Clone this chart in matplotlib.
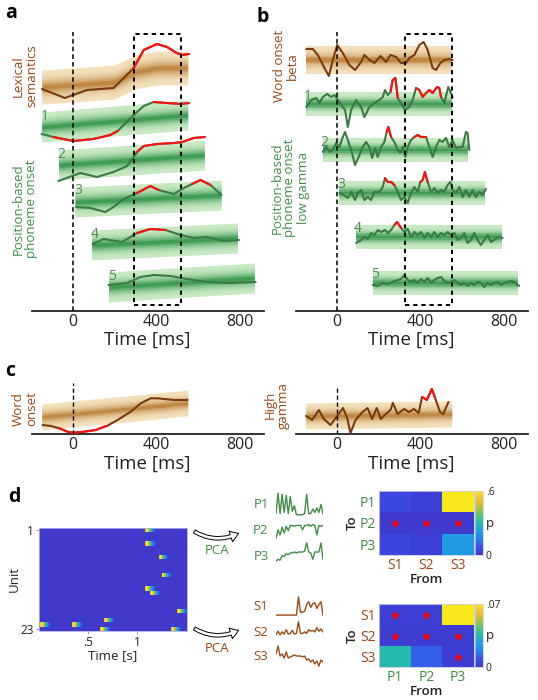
import numpy as np
import matplotlib
matplotlib.use("Agg")
import matplotlib.pyplot as plt
from matplotlib.colors import LinearSegmentedColormap, to_rgb
from matplotlib.patches import Rectangle, FancyArrowPatch

plt.rcParams['font.family'] = ['Open Sans', 'DejaVu Sans']

# ---------------- data ----------------
# Panel a (time in ms, values in arbitrary offset units)
lex_t = [-150, -100, -40, 0, 66, 130, 194, 243, 291, 339, 403, 451, 498, 524, 556]
lex_y = [222, 218, 213, 216, 221, 222, 223, 233, 243, 261, 267, 264, 258, 256, 257]
lex_sig = [(285, 560)]
lex_band_t = [-150, 0, 200, 300, 400, 550]
lex_band_c = [224, 226, 229, 239, 243, 243]

a_t = [
    [-151, -95, 0, 98, 178, 214, 291, 339, 387, 451, 516, 556],
    [-71, 34, 114, 194, 259, 291, 307, 340, 403, 484, 524, 580, 633],
    [14, 82, 154, 194, 243, 307, 371, 411, 484, 532, 572, 612, 660, 713],
    [93, 146, 235, 307, 371, 443, 516, 580, 644, 725, 797],
    [170, 259, 323, 387, 467, 548, 644, 741, 877],
]
a_y = [
    [177, 174, 170, 172, 176, 180, 196, 205, 209, 208, 207, 208],
    [130, 138, 134, 139, 145, 154, 159, 165, 167, 168, 169, 173, 174],
    [104, 103, 99, 104, 112, 118, 125, 121, 117, 123, 127, 131, 126, 116],
    [67, 72, 69, 78, 82, 81, 76, 73, 74, 70, 71],
    [26, 28, 34, 36, 35, 32, 29, 28, 29],
]
a_sig = [[(-95, 214), (387, 560)], [(307, 640)], [(307, 411), (572, 660)], [(307, 443)], []]
phon_start = [-150, -70, 10, 90, 170]
phon_end = [550, 630, 710, 790, 870]
a_band_c0 = [184, 146, 109, 66, 24]
a_band_c1 = [196, 156, 116, 73, 33]
window_a = (290, 520)

# Panel b
beta_t = [-149, -117, -93, -61, -40, -21, 0, 27, 59, 86, 115, 131, 155, 179, 208, 235, 256, 283,
          307, 331, 347, 371, 395, 416, 435, 459, 475, 496, 515, 539, 555]
beta_y = [262, 262, 256, 243, 235, 251, 266, 258, 246, 241, 249, 256, 251, 248, 255, 249, 256, 254,
          248, 248, 253, 256, 266, 269, 261, 243, 241, 248, 251, 252, 251]
beta_band_c = [251, 251]
b_t = [
    [-149, -125, -101, -85, -69, -48, -29, -13, 3, 27, 38, 51, 67, 91, 115, 131, 155, 179, 203, 219,
     230, 243, 256, 267, 280, 291, 307, 326, 347, 363, 379, 395, 411, 427, 443, 459, 480, 491, 499,
     515, 534, 547, 555],
    [-69, -53, -37, -21, -5, 11, 27, 38, 51, 67, 86, 107, 123, 139, 155, 168, 182, 195, 211, 227, 238,
     246, 259, 275, 291, 304, 315, 328, 339, 355, 371, 387, 403, 427, 443, 459, 475, 491, 507, 523,
     539, 555, 571, 587, 603, 619, 627, 635],
    [11, 32, 51, 67, 86, 99, 115, 131, 147, 163, 179, 203, 219, 230, 243, 259, 275, 291, 307, 323,
     339, 355, 371, 387, 400, 411, 422, 435, 451, 467, 483, 499, 515, 531, 544, 555, 571, 587, 603,
     619, 635, 651, 667, 683, 699, 715],
    [91, 115, 131, 147, 163, 179, 195, 211, 230, 243, 259, 275, 288, 307, 323, 339, 355, 371, 387,
     403, 419, 435, 451, 467, 483, 499, 515, 531, 547, 563, 579, 595, 611, 627, 643, 659, 675, 691,
     707, 723, 739, 755, 771, 795],
    [171, 195, 219, 243, 267, 291, 307, 323, 339, 355, 371, 387, 403, 419, 435, 451, 467, 483, 499,
     515, 531, 547, 563, 579, 595, 611, 627, 643, 659, 675, 691, 707, 723, 739, 755, 771, 787, 803,
     819, 835, 851, 875],
]
b_y = [
    [204, 211, 213, 208, 214, 217, 214, 216, 211, 204, 201, 184, 201, 211, 204, 194, 204, 208, 211,
     214, 221, 216, 219, 231, 233, 213, 208, 201, 204, 211, 223, 221, 214, 218, 221, 218, 224, 223,
     214, 208, 224, 218, 214],
    [159, 164, 159, 161, 168, 164, 174, 179, 171, 161, 146, 156, 164, 169, 164, 153, 163, 154, 164,
     169, 179, 184, 174, 169, 161, 158, 164, 154, 164, 171, 174, 176, 174, 174, 164, 154, 164, 171,
     169, 173, 164, 171, 163, 164, 164, 179, 178, 161],
    [118, 116, 113, 119, 111, 118, 121, 111, 114, 111, 119, 119, 124, 133, 129, 129, 126, 119, 111,
     114, 108, 118, 124, 119, 129, 131, 139, 129, 119, 123, 118, 121, 119, 126, 129, 121, 118, 124,
     114, 121, 114, 121, 114, 119, 116, 122],
    [68, 71, 74, 72, 78, 76, 81, 79, 81, 78, 81, 86, 89, 83, 79, 82, 74, 79, 76, 79, 73, 78, 74, 79,
     74, 78, 76, 79, 76, 78, 71, 73, 78, 68, 71, 78, 71, 66, 71, 76, 69, 71, 74, 73],
    [26, 25, 28, 27, 29, 31, 32, 36, 31, 29, 31, 28, 32, 29, 33, 28, 31, 33, 34, 30, 28, 29, 31, 28,
     26, 28, 25, 28, 26, 29, 28, 24, 28, 26, 28, 29, 26, 28, 29, 30, 29, 25],
]
b_sig = [[(256, 291), (379, 499)], [(230, 262), (365, 430)], [(228, 276), (398, 436)], [(275, 307)], []]
b_band_c = [207, 161, 118, 74, 28]
window_b = (325, 550)

# Panel c
cl_t = [-147, -107, -67, -27, 0, 53, 109, 149, 165, 213, 277, 325, 373, 405, 453, 485, 530, 550]
cl_y = [9, 8, 5.7, 2.3, 1.3, 2.3, 4, 7.3, 8.3, 14, 22.3, 30.7, 35.7, 35.7, 34.7, 34, 34, 34]
cl_sig = [(-67, 165)]
cl_band_c = [17, 31]
cr_t = [-150, -120, -88, -64, -32, 0, 28, 48, 64, 88, 122, 146, 168, 190, 210, 234, 256, 268, 290,
        322, 345, 369, 392, 408, 431, 455, 471, 494, 510, 535]
cr_y = [18, 14, 24, 15, 9, 18, 26, 16, 1, 14, 22, 26, 15, 26, 15, 20, 24, 31, 20, 25, 22, 25, 21,
        37, 34, 45, 36, 22, 20, 32]
cr_sig = [(400, 475)]
cr_band_c = [18, 20]
word_start, word_end = -150, 550

# Panel d
unit_rows = [1, 4, 7, 11, 14, 15, 19, 22, 22, 21, 23, 23]
unit_onsets = [1.08, 1.08, 1.22, 1.25, 1.08, 1.13, 1.41, 0.01, 0.34, 0.66, 0.62, 1.35]
blob_profile = [0.86, 1.0, 0.95, 0.82, 0.66, 0.52, 0.4, 0.3, 0.2, 0.12, 0.06, 0.02]
n_units = 23
p_names = ['P1', 'P2', 'P3']
s_names = ['S1', 'S2', 'S3']
P_traces = [
    [0.1, 1.0, 0.1, 0.95, 0.15, 0.9, 0.1, 0.85, 0.2, 0.45, 0.05, 0.05, 0.05, 0.05, 0.1, 0.95, 0.1,
     0.1, 0.3, 0.15, 0.35, 0.15, 0.5, 0.1],
    [0.1, 0.6, 0.3, 0.75, 0.4, 0.8, 0.55, 0.85, 0.85, 0.8, 0.85, 0.85, 0.85, 0.6, 0.85, 0.85, 0.9,
     0.8, 0.9, 0.85, 0.3, 0.85, 0.8, 0.85],
    [0.0, 0.1, 0.05, 0.3, 0.25, 0.4, 0.35, 0.45, 0.45, 0.5, 0.45, 0.5, 0.5, 0.5, 0.55, 1.0, 0.5,
     0.45, 0.1, 0.5, 0.5, 0.5, 1.0, 0.1],
]
S_traces = [
    [0.05, 0.05, 0.05, 0.05, 0.05, 0.05, 0.05, 0.05, 0.05, 0.05, 0.05, 1.0, 0.2, 0.2, 0.25, 0.6,
     0.75, 0.45, 0.65, 0.7, 0.4, 0.6, 0.75, 0.05],
    [0.1, 0.35, 0.1, 0.3, 0.15, 0.45, 0.15, 0.2, 0.4, 0.15, 0.2, 1.0, 0.2, 0.2, 0.3, 0.2, 0.45,
     0.35, 0.4, 0.3, 0.6, 0.35, 0.5, 0.3],
    [0.6, 1.0, 0.5, 0.6, 0.4, 0.7, 0.4, 0.45, 0.5, 0.55, 0.5, 0.5, 0.5, 0.45, 0.5, 0.3, 0.35, 0.2,
     0.3, 0.1, 0.25, 0.0, 0.3, 0.2],
]
p_S_to_P = [[0.06, 0.03, 0.62], [0.01, 0.01, 0.01], [0.05, 0.03, 0.20]]
sig_S_to_P = [(1, 0), (1, 1), (1, 2)]
p_P_to_S = [[0.003, 0.003, 0.072], [0.002, 0.002, 0.002], [0.035, 0.012, 0.002]]
sig_P_to_S = [(0, 0), (0, 1), (1, 0), (1, 1), (1, 2), (2, 2)]
vmax_top, vmax_bot = 0.6, 0.07

# ---------------- style ----------------
GREEN_LINE = "#3a7a44"
BROWN_LINE = "#7a3a10"
RED = "#ff1010"
GREEN_TXT = "#3f8f45"
BROWN_TXT = "#9a4814"
NUM_TXT = "#4f8a5c"
GREEN_PAL = ("#c9e9c4", "#3f9d56")
TAN_PAL = ("#f3e1bc", "#c08a46")
cmap = LinearSegmentedColormap.from_list("parula_like", [
    "#4039cc", "#3a4ee8", "#2a80f0", "#1ba4dc", "#25b9b0", "#5cc47a", "#b9bd3e", "#f2bf36", "#f8e81c"])

W, H = 538, 700
fig = plt.figure(figsize=(W / 100, H / 100), dpi=100)


def px_axes(l, t, r, b):
    return fig.add_axes([l / W, 1 - b / H, (r - l) / W, (b - t) / H])


def ftext(x, y, s, **kw):
    return fig.text(x / W, 1 - y / H, s, **kw)


def band(ax, bt, bc, half, pal):
    bt = np.asarray(bt, float)
    bc = np.asarray(bc, float)
    c_out = np.array(to_rgb(pal[0]))
    c_core = np.array(to_rgb(pal[1]))
    n = 10
    for k in range(n):
        f = 1.0 - k * (0.88 / (n - 1))
        w = (k / (n - 1)) ** 2.2
        col = c_out * (1 - w) + c_core * w
        ax.fill_between(bt, bc - half * f, bc + half * f, color=col, lw=0, zorder=1)


def trace(ax, t, y, sig, color, lw=1.5):
    t = np.asarray(t, float)
    y = np.asarray(y, float)
    ax.plot(t, y, color=color, lw=lw, zorder=3, solid_joinstyle='round', solid_capstyle='round')
    for s, e in sig:
        m = (t >= s) & (t <= e)
        ax.plot(t[m], y[m], color=RED, lw=lw, zorder=4, solid_joinstyle='round',
                solid_capstyle='round')


def time_axis(ax, top_px, bottom_px, label_top_px):
    h = bottom_px - top_px
    ax.set_xlim(-198, 915)
    ax.set_ylim(0, h)
    for s in ['top', 'right', 'left']:
        ax.spines[s].set_visible(False)
    ax.spines['bottom'].set_linewidth(1.3)
    ax.spines['bottom'].set_color('#222222')
    ax.set_yticks([])
    ax.set_xticks([0, 400, 800])
    ax.tick_params(axis='x', length=0, pad=2.5, labelsize=11.5, labelcolor='#222222')
    ax.set_xlabel('Time [ms]', fontsize=13.5, color='#222222')
    ax.xaxis.set_label_coords(0.5, -(label_top_px - bottom_px) / h)
    ax.patch.set_alpha(0)


# ---------------- panel a ----------------
axa = px_axes(32, 30, 263.5, 311)
time_axis(axa, 30, 311, 331)
band(axa, lex_band_t, lex_band_c, 17, TAN_PAL)
trace(axa, lex_t, lex_y, lex_sig, BROWN_LINE)
for i in range(5):
    band(axa, [phon_start[i], phon_end[i]], [a_band_c0[i], a_band_c1[i]], 15, GREEN_PAL)
    trace(axa, a_t[i], a_y[i], a_sig[i], GREEN_LINE)
    axa.text(phon_start[i] + 15, a_band_c0[i] + 11, str(i + 1), color=NUM_TXT, fontsize=10,
             ha='center', va='center', zorder=5)
axa.plot([0, 0], [0, 279], ls=(0, (3, 2)), color='black', lw=1.1, zorder=5)
axa.add_patch(Rectangle((window_a[0], 6), window_a[1] - window_a[0], 271, fill=False,
                        ls=(0, (2.2, 2)), lw=1.4, ec='black', zorder=6))

# ---------------- panel b ----------------
axb = px_axes(296, 30, 527.5, 311)
time_axis(axb, 30, 311, 331)
band(axb, [word_start, word_end], beta_band_c, 14, TAN_PAL)
trace(axb, beta_t, beta_y, [], BROWN_LINE)
for i in range(5):
    band(axb, [phon_start[i], phon_end[i]], [b_band_c[i], b_band_c[i]], 12, GREEN_PAL)
    trace(axb, b_t[i], b_y[i], b_sig[i], GREEN_LINE)
    axb.text(phon_start[i] + 10, b_band_c[i] + 8, str(i + 1), color=NUM_TXT, fontsize=10,
             ha='center', va='center', zorder=5)
axb.plot([0, 0], [0, 279], ls=(0, (3, 2)), color='black', lw=1.1, zorder=5)
axb.add_patch(Rectangle((window_b[0], 6), window_b[1] - window_b[0], 271, fill=False,
                        ls=(0, (2.2, 2)), lw=1.4, ec='black', zorder=6))

# ---------------- panel c ----------------
axc1 = px_axes(32, 382, 263.5, 434)
time_axis(axc1, 382, 434, 455)
band(axc1, [word_start, word_end], cl_band_c, 13, TAN_PAL)
trace(axc1, cl_t, cl_y, cl_sig, BROWN_LINE)
axc1.plot([0, 0], [0, 51], ls=(0, (3, 2)), color='black', lw=1.0, zorder=5)

axc2 = px_axes(296, 382, 527.5, 434)
time_axis(axc2, 382, 434, 455)
band(axc2, [word_start, word_end], cr_band_c, 13, TAN_PAL)
trace(axc2, cr_t, cr_y, cr_sig, BROWN_LINE)
axc2.plot([0, 0], [0, 48], ls=(0, (3, 2)), color='black', lw=1.0, zorder=5)

# side labels
ftext(25, 76, 'Lexical\nsemantics', rotation=90, ha='center', va='center', color=BROWN_TXT,
      fontsize=9.5, multialignment='center', linespacing=1.0)
ftext(25, 209, 'Position-based\nphoneme onset', rotation=90, ha='center', va='center',
      color=GREEN_TXT, fontsize=9.5, multialignment='center', linespacing=1.0)
ftext(286, 66, 'Word onset\nbeta', rotation=90, ha='center', va='center', color=BROWN_TXT,
      fontsize=9.5, multialignment='center', linespacing=1.0)
ftext(290, 188, 'Position-based\nphoneme onset\nlow gamma', rotation=90, ha='center',
      va='center', color=GREEN_TXT, fontsize=9.5, multialignment='center', linespacing=1.0)
ftext(25, 409, 'Word\nonset', rotation=90, ha='center', va='center', color=BROWN_TXT,
      fontsize=9.5, multialignment='center', linespacing=1.0)
ftext(277, 405, 'High\ngamma', rotation=90, ha='center', va='center', color=BROWN_TXT,
      fontsize=9.5, multialignment='center', linespacing=1.0)

# panel letters
for lx, ly, lt in [(11, 13, 'a'), (263, 17, 'b'), (10, 371, 'c'), (14, 497, 'd')]:
    ftext(lx, ly, lt, fontsize=14, fontweight='bold', ha='center', va='center', color='black')

# ---------------- panel d ----------------
dt = 0.01
nbins = 151
M = np.zeros((n_units, nbins))
for r, t0 in zip(unit_rows, unit_onsets):
    i0 = int(round(t0 / dt))
    for k, v in enumerate(blob_profile):
        if i0 + k < nbins:
            M[r - 1, i0 + k] = max(M[r - 1, i0 + k], v)
axr = px_axes(39, 528, 187, 631)
axr.imshow(M, extent=[0, nbins * dt, n_units + 0.5, 0.5], aspect='auto', cmap=cmap, vmin=0,
           vmax=1, interpolation='nearest')
axr.set_yticks([1, n_units])
axr.set_yticklabels(['1', str(n_units)])
axr.set_xticks([0.5, 1.0])
axr.set_xticklabels(['.5', '1'])
axr.tick_params(labelsize=8.5, length=2, width=0.6, color='#888888', labelcolor='#222222', pad=1.5)
for s in axr.spines.values():
    s.set_color('#aab0e8')
    s.set_linewidth(0.6)
axr.set_ylabel('Unit', fontsize=9.5, color='#222222', labelpad=0)
axr.set_xlabel('Time [s]', fontsize=9.5, color='#222222', labelpad=0)

# arrows + PCA
for (y0, y1, ytxt, col) in [(530, 532, 550, GREEN_TXT), (627, 629, 648, BROWN_TXT)]:
    arr = FancyArrowPatch((192 / W, 1 - y0 / H), (241 / W, 1 - y1 / H), transform=fig.transFigure,
                          connectionstyle="arc3,rad=0.3",
                          arrowstyle="simple,head_width=0.8,head_length=0.6,tail_width=0.25",
                          mutation_scale=10, fc='white', ec='black', lw=0.7)
    fig.add_artist(arr)
    ftext(217, ytxt, 'PCA', color=col, fontsize=9.5, ha='center', va='center')

# small component traces
p_boxes = [(492, 517), (522, 541), (542, 562)]
s_boxes = [(596, 617), (621, 637), (645, 667)]
p_lab_y = [505, 531, 557]
s_lab_y = [607, 633, 657]
for i in range(3):
    for boxes, traces, lab_y, names, lc, tc in [
            (p_boxes, P_traces, p_lab_y, p_names, "#3f8c46", GREEN_TXT),
            (s_boxes, S_traces, s_lab_y, s_names, "#9a4a14", BROWN_TXT)]:
        t0, t1 = boxes[i]
        axs = px_axes(276, t0, 323, t1)
        vals = traces[i]
        axs.plot(np.arange(len(vals)), vals, color=lc, lw=1.0)
        axs.set_xlim(0, len(vals) - 1)
        axs.set_ylim(-0.05, 1.05)
        axs.axis('off')
        ftext(261, lab_y[i], names[i], color=tc, fontsize=9.5, ha='center', va='center')


def pmatrix(top, bottom, data, vmax, vlab, sigs, rownames, rowcol, colnames, colcol):
    ax = px_axes(379, top, 473.5, bottom)
    im = ax.imshow(np.asarray(data), extent=[0.5, 3.5, 3.5, 0.5], aspect='auto', cmap=cmap,
                   vmin=0, vmax=vmax, interpolation='nearest')
    for r, c in sigs:
        ax.plot(c + 1, r + 1, marker='*', color='red', ms=4.5, ls='none', mec='red')
    ax.set_xticks([1, 2, 3])
    ax.set_yticks([1, 2, 3])
    ax.set_xticklabels(colnames)
    ax.set_yticklabels(rownames)
    for lbl in ax.get_xticklabels():
        lbl.set_color(colcol)
    for lbl in ax.get_yticklabels():
        lbl.set_color(rowcol)
    ax.tick_params(length=0, labelsize=10, pad=2)
    for s in ax.spines.values():
        s.set_color('#c8cce8')
        s.set_linewidth(0.6)
    ax.set_xlabel('From', fontsize=9.5, fontweight='semibold', color='#222222', labelpad=0)
    ax.set_ylabel('To', fontsize=9.5, fontweight='semibold', color='#222222', labelpad=1)
    cax = px_axes(475, top, 483, bottom)
    cb = fig.colorbar(im, cax=cax, ticks=[0, vmax])
    cb.ax.set_yticklabels(['0', vlab])
    cb.ax.tick_params(length=0, labelsize=7.5, pad=2, labelcolor='#222222')
    cb.outline.set_linewidth(0.5)
    cb.outline.set_edgecolor('#c8cce8')
    ftext(490, (top + bottom) / 2, 'p', fontsize=9.5, ha='center', va='center', color='#222222')


pmatrix(491, 555, p_S_to_P, vmax_top, '.6', sig_S_to_P, p_names, GREEN_TXT, s_names, BROWN_TXT)
pmatrix(604, 667, p_P_to_S, vmax_bot, '.07', sig_P_to_S, s_names, BROWN_TXT, p_names, GREEN_TXT)

fig.savefig('out.png', dpi=100)
